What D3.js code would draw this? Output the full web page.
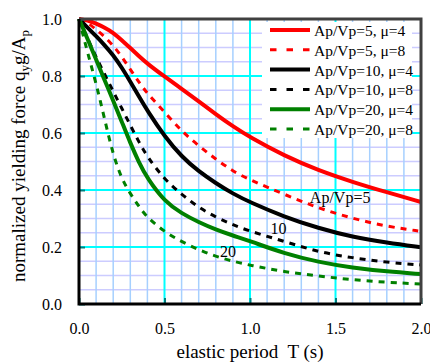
<!DOCTYPE html>
<html><head><meta charset="utf-8">
<script src="https://cdn.jsdelivr.net/npm/d3@7/dist/d3.min.js"></script>
<style>html,body{margin:0;padding:0;background:#fff;}svg{display:block;}</style>
</head><body>
<svg id="c" width="430" height="362"></svg>
<script>
// ---- data ----
const periods = [0,0.05,0.1,0.15,0.2,0.25,0.3,0.35,0.4,0.5,0.6,0.7,0.8,0.9,1.0,1.2,1.4,1.6,1.8,2.0];
const ap5mu4  = [1.0,0.996,0.984,0.970,0.952,0.926,0.898,0.870,0.843,0.798,0.755,0.711,0.666,0.623,0.585,0.520,0.469,0.428,0.392,0.358];
const ap5mu8  = [1.0,0.988,0.963,0.938,0.907,0.868,0.823,0.779,0.738,0.674,0.606,0.555,0.508,0.466,0.435,0.385,0.336,0.300,0.272,0.255];
const ap10mu4 = [1.0,0.970,0.940,0.908,0.873,0.830,0.780,0.729,0.678,0.588,0.517,0.465,0.424,0.387,0.357,0.306,0.266,0.235,0.215,0.199];
const ap10mu8 = [1.0,0.932,0.866,0.806,0.746,0.687,0.627,0.569,0.516,0.437,0.385,0.338,0.305,0.278,0.255,0.220,0.182,0.162,0.146,0.137];
const ap20mu4 = [1.0,0.930,0.858,0.785,0.714,0.640,0.565,0.497,0.440,0.360,0.318,0.287,0.261,0.240,0.221,0.177,0.147,0.127,0.114,0.105];
const ap20mu8 = [1.0,0.882,0.775,0.648,0.522,0.439,0.387,0.342,0.303,0.253,0.219,0.190,0.167,0.150,0.136,0.113,0.098,0.085,0.076,0.070];
const seriesNames = ["Ap/Vp=5, \u03bc=4","Ap/Vp=5, \u03bc=8","Ap/Vp=10, \u03bc=4","Ap/Vp=10, \u03bc=8","Ap/Vp=20, \u03bc=4","Ap/Vp=20, \u03bc=8"];
const seriesValues = [ap5mu4, ap5mu8, ap10mu4, ap10mu8, ap20mu4, ap20mu8];
const seriesColors = ["#ff0000","#ff0000","#000000","#000000","#008000","#008000"];
const seriesDashed = [false,true,false,true,false,true];
const xTicks = [0,0.5,1.0,1.5,2.0];
const yTicks = [0,0.2,0.4,0.6,0.8,1.0];
const curveLabels = [{t:1.35,q:0.355,text:"Ap/Vp=5"},{t:1.12,q:0.245,text:"10"},{t:0.825,q:0.165,text:"20"}];

// ---- layout ----
const svg = d3.select("#c");
const L = 79, T0 = 19, R = 421, B = 304;
const x = d3.scaleLinear().domain([0,2]).range([L,R]);
const y = d3.scaleLinear().domain([0,1]).range([B,T0]);
const serif = "'Liberation Serif','Times New Roman',serif";

svg.append("rect").attr("width",430).attr("height",362).attr("fill","#fff");

// grid
const g = svg.append("g");
const vMinor = d3.range(1,20).map(i=>i/10).filter(v=>Math.abs(v*2-Math.round(v*2))>1e-6);
const hMinor = d3.range(1,20).map(i=>i/20).filter(v=>Math.abs(v*5-Math.round(v*5))>1e-6);
g.selectAll(".hm").data(hMinor).join("line")
  .attr("x1",L).attr("x2",R).attr("y1",d=>y(d)).attr("y2",d=>y(d))
  .attr("stroke","#ccccff").attr("stroke-width",1.5);
g.selectAll(".vm").data(vMinor).join("line")
  .attr("y1",T0).attr("y2",B).attr("x1",d=>x(d)).attr("x2",d=>x(d))
  .attr("stroke","#a6d0ff").attr("stroke-width",1.5);
g.selectAll(".hM").data([0.2,0.4,0.6,0.8]).join("line")
  .attr("x1",L).attr("x2",R).attr("y1",d=>y(d)).attr("y2",d=>y(d))
  .attr("stroke","#00ffff").attr("stroke-width",2);
g.selectAll(".vM").data([0.5,1.0,1.5]).join("line")
  .attr("y1",T0).attr("y2",B).attr("x1",d=>x(d)).attr("x2",d=>x(d))
  .attr("stroke","#00ffff").attr("stroke-width",2);

// curves
const line = d3.line().x(d=>x(d[0])).y(d=>y(d[1])).curve(d3.curveBasis);
seriesValues.forEach((vals,i)=>{
  svg.append("path")
    .datum(periods.map((t,j)=>[t,vals[j]]))
    .attr("d",line).attr("fill","none")
    .attr("stroke",seriesColors[i])
    .attr("stroke-width",seriesDashed[i]?3:4)
    .attr("stroke-dasharray",seriesDashed[i]?"6,6":null);
});

// curve labels
svg.selectAll(".cl").data(curveLabels).join("text")
  .attr("x",d=>x(d.t)).attr("y",d=>y(d.q))
  .attr("font-family",serif).attr("font-size",16).attr("fill","#000")
  .text(d=>d.text);

// legend
const lg = svg.append("g");
lg.append("rect").attr("x",262).attr("y",22).attr("width",150).attr("height",116).attr("fill","#fff");
seriesNames.forEach((name,i)=>{
  const yy = 30 + i*19.8;
  lg.append("line").attr("x1",270).attr("x2",310).attr("y1",yy).attr("y2",yy)
    .attr("stroke",seriesColors[i]).attr("stroke-width",seriesDashed[i]?3:4)
    .attr("stroke-dasharray",seriesDashed[i]?"6.5,10":null);
  lg.append("text").attr("x",314).attr("y",yy+6)
    .attr("font-family",serif).attr("font-size",15.5).attr("fill","#000").text(name);
});

// axes (ticks + labels)
const ax = svg.append("g").attr("transform",`translate(0,${B})`)
  .call(d3.axisBottom(x).tickValues(xTicks).tickFormat(d3.format(".1f")).tickSize(-6).tickPadding(18.6));
const ay = svg.append("g").attr("transform",`translate(${L},0)`)
  .call(d3.axisLeft(y).tickValues(yTicks).tickFormat(d3.format(".1f")).tickSize(-6).tickPadding(17));
[ax,ay].forEach(a=>{
  a.select(".domain").remove();
  a.selectAll("line").attr("stroke","#008080").attr("stroke-width",2);
  a.selectAll("text").attr("font-family",serif).attr("font-size",16).attr("fill","#000");
});

// frame
svg.append("path").attr("d",`M${L},${T0}H${R}V${B}`).attr("fill","none").attr("stroke","#404040").attr("stroke-width",3);
svg.append("path").attr("d",`M${L},${T0}V${B}H${R}`).attr("fill","none").attr("stroke","#000").attr("stroke-width",3);

// titles
svg.append("text").attr("x",(L+R)/2).attr("y",357.5).attr("text-anchor","middle")
  .attr("font-family",serif).attr("font-size",19).attr("fill","#000")
  .attr("xml:space","preserve").style("white-space","pre")
  .text("elastic period  T (s)");
const yt = svg.append("text").attr("transform","translate(25,156) rotate(-90)")
  .attr("text-anchor","middle").attr("font-family",serif).attr("font-size",19).attr("fill","#000");
yt.append("tspan").text("normalized yielding force q");
yt.append("tspan").attr("font-size",13).attr("dy",4).text("y");
yt.append("tspan").attr("dy",-4).text("g/A");
yt.append("tspan").attr("font-size",13).attr("dy",4).text("p");
</script>
</body></html>
